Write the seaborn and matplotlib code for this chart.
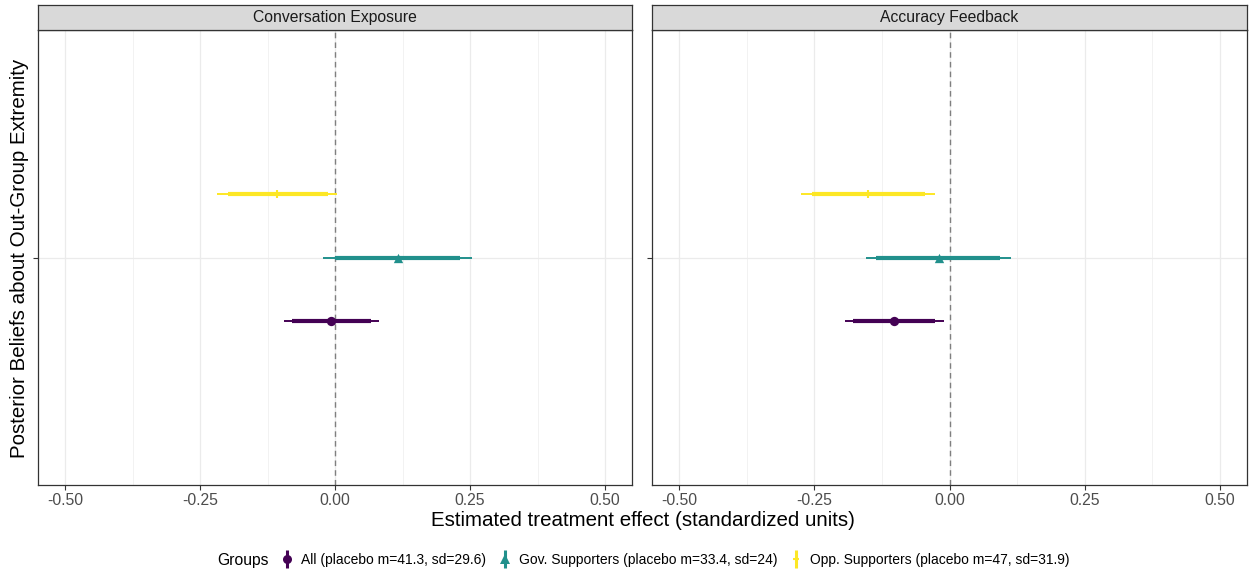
import matplotlib
matplotlib.use("Agg")
import matplotlib.pyplot as plt
from matplotlib.lines import Line2D
from matplotlib.legend_handler import HandlerTuple
from matplotlib.ticker import MultipleLocator
import numpy as np
import pandas as pd
import seaborn as sns

# ---- data ----
panels = ["Conversation Exposure", "Accuracy Feedback"]
groups = ["All (placebo m=41.3, sd=29.6)",
          "Gov. Supporters (placebo m=33.4, sd=24)",
          "Opp. Supporters (placebo m=47, sd=31.9)"]
estimate = {"Conversation Exposure": [-0.007, 0.116, -0.107],
            "Accuracy Feedback": [-0.103, -0.020, -0.151]}
ci95_low = {"Conversation Exposure": [-0.094, -0.022, -0.218],
            "Accuracy Feedback": [-0.194, -0.155, -0.275]}
ci95_high = {"Conversation Exposure": [0.081, 0.253, 0.004],
             "Accuracy Feedback": [-0.011, 0.114, -0.026]}
ci90_low = {"Conversation Exposure": [-0.079, 0.000, -0.199],
            "Accuracy Feedback": [-0.179, -0.135, -0.255]}
ci90_high = {"Conversation Exposure": [0.066, 0.231, -0.013],
             "Accuracy Feedback": [-0.026, 0.094, -0.046]}
colors = ["#440154", "#21908C", "#FDE725"]
markers = ["o", "^", "|"]
x_ticks = [-0.5, -0.25, 0.0, 0.25, 0.5]
x_ticklabels = ["-0.50", "-0.25", "0.00", "0.25", "0.50"]

rows = []
for p in panels:
    for i, g in enumerate(groups):
        rows.append(dict(panel=p, group=g, est=estimate[p][i],
                         lo95=ci95_low[p][i], hi95=ci95_high[p][i],
                         lo90=ci90_low[p][i], hi90=ci90_high[p][i],
                         y=1 + (i - 1) / 6))
df = pd.DataFrame(rows)

sns.set_theme(style="whitegrid")
plt.rcParams["font.family"] = ["Liberation Sans", "DejaVu Sans"]

W, H = 1249, 573
fig = plt.figure(figsize=(W / 100, H / 100), dpi=100)

panel_lr = [(38, 632), (652, 1247)]
top, bot = 30, 485
strip_top = 5
palette = dict(zip(groups, colors))
mk = dict(zip(groups, markers))

for pi, p in enumerate(panels):
    l, r = panel_lr[pi]
    ax = fig.add_axes([l / W, 1 - bot / H, (r - l) / W, (bot - top) / H])
    sub = df[df.panel == p]
    ax.set_facecolor("white")
    ax.set_xlim(-0.55, 0.55)
    ax.set_ylim(0.4, 1.6)
    ax.xaxis.set_minor_locator(MultipleLocator(0.125))
    ax.grid(which="major", axis="both", color="#EBEBEB", lw=0.9)
    ax.grid(which="minor", axis="x", color="#EBEBEB", lw=0.45)
    ax.set_axisbelow(True)
    ax.axvline(0, color="#7F7F7F", ls=(0, (4, 3)), lw=1.0, zorder=1.5)
    for _, row in sub.iterrows():
        c = palette[row.group]
        ax.hlines(row.y, row.lo95, row.hi95, color=c, lw=1.4, zorder=3)
        ax.hlines(row.y, row.lo90, row.hi90, color=c, lw=3.0, zorder=3)
    for g in groups:
        s = sub[sub.group == g]
        sns.scatterplot(data=s, x="est", y="y", ax=ax, color=palette[g],
                        marker=mk[g], s=45 if mk[g] != "|" else 40,
                        linewidth=1.5 if mk[g] == "|" else 0,
                        edgecolor=palette[g], zorder=4, legend=False)
    ax.set_xticks(x_ticks)
    ax.set_xticklabels(x_ticklabels)
    ax.set_yticks([1.0])
    ax.set_yticklabels([""])
    ax.set_xlabel("")
    ax.set_ylabel("")
    ax.tick_params(axis="both", which="major", length=3.5, width=0.8,
                   color="#333333", labelsize=11.3, labelcolor="#4D4D4D",
                   pad=2, bottom=True, left=True)
    ax.tick_params(axis="both", which="minor", length=0)
    for sp in ax.spines.values():
        sp.set_color("#333333")
        sp.set_linewidth(0.9)
        sp.set_visible(True)
    # strip
    sax = fig.add_axes([l / W, 1 - top / H, (r - l) / W, (top - strip_top) / H])
    sax.set_facecolor("#D9D9D9")
    sax.set_xticks([])
    sax.set_yticks([])
    for sp in sax.spines.values():
        sp.set_color("#333333")
        sp.set_linewidth(0.9)
    sax.text(0.5, 0.5, p, ha="center", va="center", fontsize=11.3,
             color="#1A1A1A", transform=sax.transAxes)

fig.text((38 + 1247) / 2 / W, 1 - 520 / H,
         "Estimated treatment effect (standardized units)",
         ha="center", va="center", fontsize=14.8, color="black")
fig.text(20 / W, 1 - 258 / H, "Posterior Beliefs about Out-Group Extremity",
         ha="center", va="center", rotation=90, fontsize=14.8, color="black")

# legend
fig.text(217 / W, 1 - 560 / H, "Groups", ha="left", va="center",
         fontsize=11.3, color="black")
handles = []
for g, c, m in zip(groups, colors, markers):
    vline = Line2D([], [], color=c, marker="|", markersize=13,
                   markeredgewidth=2.2, linestyle="none")
    if m == "|":
        pt = Line2D([], [], color=c, marker="_", markersize=5,
                    markeredgewidth=1.5, linestyle="none")
    else:
        pt = Line2D([], [], color=c, marker=m, markersize=6.5,
                    markeredgewidth=0, linestyle="none")
    handles.append((vline, pt))
fs = 10
px_per_em = fs * 100 / 72
hl = 0.6
leg = fig.legend(handles, groups, loc="center left",
                 bbox_to_anchor=((287 - hl * px_per_em / 2) / W, 1 - 560 / H),
                 ncol=3, frameon=False, fontsize=fs, handlelength=hl,
                 handletextpad=0.7, columnspacing=1.05, borderpad=0,
                 borderaxespad=0,
                 handler_map={tuple: HandlerTuple(ndivide=1, pad=0)})
for t in leg.get_texts():
    t.set_color("black")

fig.savefig("out.png", dpi=100, facecolor="white")
